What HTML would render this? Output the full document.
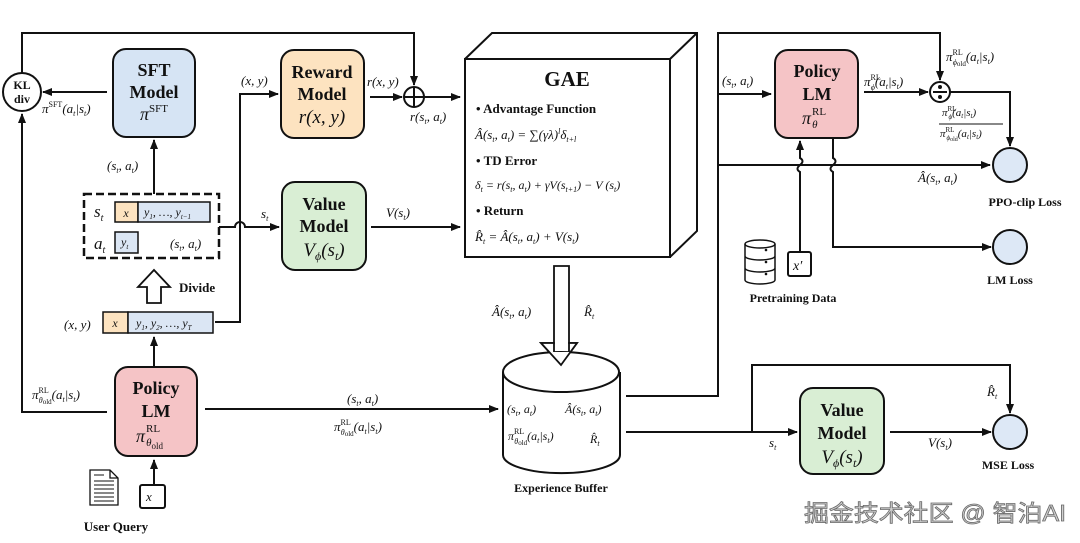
<!DOCTYPE html>
<html><head><meta charset="utf-8"><style>
body{margin:0;background:#fff}
svg{display:block}
.b{font-family:"Liberation Serif",serif;font-weight:bold;fill:#111}
.m{font-family:"Liberation Serif",serif;font-style:italic;fill:#111}
.n{font-family:"Liberation Sans",sans-serif;fill:#111}
</style></head><body>
<svg width="1080" height="543" viewBox="0 0 1080 543" xmlns="http://www.w3.org/2000/svg">
<defs><marker id="a" markerWidth="10" markerHeight="8" refX="9" refY="4" orient="auto" markerUnits="userSpaceOnUse"><path d="M0,0 L10,4 L0,8 z" fill="#111"/></marker></defs>
<g fill="none" stroke="#111" stroke-width="2">
<path d="M22,73 V33 H414 V85" marker-end="url(#a)"/>
<circle cx="22" cy="92" r="19" fill="#fff"/>
<path d="M107,92 H43" marker-end="url(#a)"/>
<path d="M107,412 H22 V114" marker-end="url(#a)"/>
<rect x="113" y="49" width="82" height="88" rx="13" fill="#d6e4f4"/>
<path d="M154,194 V140" marker-end="url(#a)"/>
<rect x="281" y="50" width="83" height="88" rx="13" fill="#fde3c0"/>
<path d="M370,97 H402" marker-end="url(#a)"/>
<circle cx="414" cy="97" r="10" fill="#fff"/>
<path d="M404,97 H424 M414,87 V107"/>
<path d="M424,97 H460" marker-end="url(#a)"/>
<rect x="282" y="182" width="84" height="88" rx="13" fill="#d9eed4"/>
<path d="M219,227 H235 A5,5 0 0 1 245,227 H279" marker-end="url(#a)"/>
<path d="M371,227 H460" marker-end="url(#a)"/>
<path d="M215,322 H240 V94 H278" marker-end="url(#a)"/>
<rect x="84" y="194" width="135" height="64" stroke-dasharray="8,4" stroke-width="2.5"/>
<rect x="115" y="202" width="23" height="20" fill="#fde3c0" stroke-width="1.5"/>
<rect x="138" y="202" width="72" height="20" fill="#dbe6f4" stroke-width="1.5"/>
<rect x="115" y="232" width="23" height="21" fill="#dbe6f4" stroke-width="1.5"/>
<path d="M147,303 V287 H138 L154,270 L170,287 H161 V303 Z" fill="#fff" stroke-width="1.8"/>
<rect x="103" y="312" width="25" height="21" fill="#fde3c0" stroke-width="1.5"/>
<rect x="128" y="312" width="85" height="21" fill="#dbe6f4" stroke-width="1.5"/>
<path d="M154,367 V337" marker-end="url(#a)"/>
<rect x="115" y="367" width="82" height="89" rx="13" fill="#f5c4c6"/>
<path d="M205,409 H498" marker-end="url(#a)"/>
<path d="M154,485 V460" marker-end="url(#a)"/>
<rect x="140" y="485" width="25" height="23" rx="2"/>
<path d="M90,470 H110 L118,478 V505 H90 Z M110,470 V478 H118" stroke-width="1.3"/>
<path d="M94,475 H104 M94,481 H114 M94,485 H114 M94,489 H114 M94,493 H114 M94,497 H114 M94,501 H114" stroke-width="1"/>
<path d="M465,59 L492,33 H697 V231 L670,257" fill="#fff"/>
<path d="M670,59 L697,33"/>
<rect x="465" y="59" width="205" height="198" fill="#fff"/>
<path d="M554,266 V343 H541 L561,365 L577,343 H569 V266 Z" fill="#fff" stroke-width="1.8"/>
<path d="M503,372 V455 A58,18 0 0 0 620,455 V372" fill="#fff"/>
<ellipse cx="561" cy="372" rx="58" ry="20" fill="#fff"/>
<path d="M554,352 V343 H541 L561,365 L577,343 H569 V352" fill="#fff" stroke-width="1.8"/>
<path d="M626,396 H718 V33 H940 V80" marker-end="url(#a)"/>
<path d="M718,94 H771" marker-end="url(#a)"/>
<path d="M718,165 H990" marker-end="url(#a)"/>
<rect x="775" y="50" width="83" height="88" rx="13" fill="#f5c4c6"/>
<path d="M864,92 H928" marker-end="url(#a)"/>
<circle cx="940" cy="92" r="10" fill="#fff"/>
<path d="M933,92 H947"/><circle cx="940" cy="87" r="1" fill="#111"/><circle cx="940" cy="97" r="1" fill="#111"/>
<path d="M950,92 H1010 V146" marker-end="url(#a)"/>
<circle cx="1010" cy="165" r="17" fill="#dde8f6"/>
<path d="M833,138 V158 Q838,161 833,165 Q828,169 833,172 V247 H991" marker-end="url(#a)"/>
<circle cx="1010" cy="247" r="17" fill="#dde8f6"/>
<path d="M800,252 V172 Q795,169 800,165 Q805,161 800,158 V141" marker-end="url(#a)"/>
<rect x="788" y="252" width="23" height="24" rx="2"/>
<g stroke-width="1.5"><ellipse cx="760" cy="244" rx="15" ry="4"/><path d="M745,244 V280 A15,4 0 0 0 775,280 V244 M745,256 A15,4 0 0 0 775,256 M745,268 A15,4 0 0 0 775,268"/></g>
<path d="M626,432 H797" marker-end="url(#a)"/>
<path d="M752,432 V365 H1010 V413" marker-end="url(#a)"/>
<rect x="800" y="388" width="84" height="86" rx="13" fill="#d9eed4"/>
<path d="M890,432 H991" marker-end="url(#a)"/>
<circle cx="1010" cy="432" r="17" fill="#dde8f6"/>
</g>
<g fill="#111" stroke="none"><circle cx="766" cy="250" r="1.3"/><circle cx="766" cy="262" r="1.3"/><circle cx="766" cy="274" r="1.3"/></g>
<text class="b" font-size="12" x="22" y="89" text-anchor="middle">KL</text>
<text class="b" font-size="12" x="22" y="103" text-anchor="middle">div</text>
<text class="b" font-size="18" x="154" y="76" text-anchor="middle">SFT</text>
<text class="b" font-size="18" x="154" y="98" text-anchor="middle">Model</text>
<text class="m" font-size="18" x="154" y="120" text-anchor="middle">π<tspan font-size="11" font-style="normal" dy="-8">SFT</tspan></text>
<text class="m" font-size="13" x="42" y="113">π<tspan font-size="8" font-style="normal" dy="-6">SFT</tspan><tspan dy="6">(a</tspan><tspan font-size="8" dy="3">t</tspan><tspan dy="-3">|s</tspan><tspan font-size="8" dy="3">t</tspan><tspan dy="-3">)</tspan></text>
<text class="b" font-size="18" x="322" y="78" text-anchor="middle">Reward</text>
<text class="b" font-size="18" x="322" y="100" text-anchor="middle">Model</text>
<text class="m" font-size="19" x="322" y="123" text-anchor="middle">r(x, y)</text>
<text class="m" font-size="13" x="367" y="86">r(x, y)</text>
<text class="m" font-size="13" x="410" y="121">r(s<tspan font-size="8" dy="3">t</tspan><tspan dy="-3">, a</tspan><tspan font-size="8" dy="3">t</tspan><tspan dy="-3">)</tspan></text>
<text class="m" font-size="13" x="241" y="85">(x, y)</text>
<text class="b" font-size="18" x="324" y="210" text-anchor="middle">Value</text>
<text class="b" font-size="18" x="324" y="232" text-anchor="middle">Model</text>
<text class="m" font-size="19" x="324" y="256" text-anchor="middle">V<tspan font-size="12" dy="4">ϕ</tspan><tspan dy="-4">(s</tspan><tspan font-size="12" dy="4">t</tspan><tspan dy="-4">)</tspan></text>
<text class="m" font-size="13" x="261" y="218">s<tspan font-size="8" dy="3">t</tspan></text>
<text class="m" font-size="13" x="386" y="217">V(s<tspan font-size="8" dy="3">t</tspan><tspan dy="-3">)</tspan></text>
<text class="m" font-size="17" x="94" y="217">s<tspan font-size="10" dy="4">t</tspan></text>
<text class="m" font-size="12" x="126" y="217" text-anchor="middle">x</text>
<text class="m" font-size="12" x="144" y="216">y<tspan font-size="7" dy="3">1</tspan><tspan dy="-3">, …, y</tspan><tspan font-size="7" dy="3">t−1</tspan></text>
<text class="m" font-size="17" x="94" y="249">a<tspan font-size="10" dy="4">t</tspan></text>
<text class="m" font-size="12" x="121" y="246">y<tspan font-size="7" dy="3">t</tspan></text>
<text class="m" font-size="13" x="170" y="248">(s<tspan font-size="8" dy="3">t</tspan><tspan dy="-3">, a</tspan><tspan font-size="8" dy="3">t</tspan><tspan dy="-3">)</tspan></text>
<text class="m" font-size="13" x="107" y="170">(s<tspan font-size="8" dy="3">t</tspan><tspan dy="-3">, a</tspan><tspan font-size="8" dy="3">t</tspan><tspan dy="-3">)</tspan></text>
<text class="b" font-size="13" x="179" y="292">Divide</text>
<text class="m" font-size="13" x="64" y="329">(x, y)</text>
<text class="m" font-size="12" x="115" y="327" text-anchor="middle">x</text>
<text class="m" font-size="12" x="136" y="327">y<tspan font-size="7" dy="3">1</tspan><tspan dy="-3">, y</tspan><tspan font-size="7" dy="3">2</tspan><tspan dy="-3">, …, y</tspan><tspan font-size="7" dy="3">T</tspan></text>
<text class="b" font-size="18" x="156" y="394" text-anchor="middle">Policy</text>
<text class="b" font-size="18" x="156" y="417" text-anchor="middle">LM</text>
<text class="m" font-size="18" x="136" y="442">π<tspan font-size="11" font-style="normal" dx="1" dy="-10">RL</tspan><tspan font-size="11" dx="-14" dy="14">θ</tspan><tspan font-size="9" font-style="normal" dy="3">old</tspan></text>
<text class="m" font-size="13" x="32" y="399">π<tspan font-size="8" font-style="normal" dy="-6">RL</tspan><tspan font-size="8" dx="-10" dy="10">θ</tspan><tspan font-size="7" font-style="normal" dy="1">old</tspan><tspan dy="-5">(a</tspan><tspan font-size="8" dy="3">t</tspan><tspan dy="-3">|s</tspan><tspan font-size="8" dy="3">t</tspan><tspan dy="-3">)</tspan></text>
<text class="m" font-size="13" x="347" y="403">(s<tspan font-size="8" dy="3">t</tspan><tspan dy="-3">, a</tspan><tspan font-size="8" dy="3">t</tspan><tspan dy="-3">)</tspan></text>
<text class="m" font-size="13" x="334" y="431">π<tspan font-size="8" font-style="normal" dy="-6">RL</tspan><tspan font-size="8" dx="-10" dy="10">θ</tspan><tspan font-size="7" font-style="normal" dy="1">old</tspan><tspan dy="-5">(a</tspan><tspan font-size="8" dy="3">t</tspan><tspan dy="-3">|s</tspan><tspan font-size="8" dy="3">t</tspan><tspan dy="-3">)</tspan></text>
<text class="m" font-size="13" x="146" y="501">x</text>
<text class="b" font-size="13" x="116" y="531" text-anchor="middle">User Query</text>
<text class="b" font-size="21" x="567" y="86" text-anchor="middle">GAE</text>
<text class="b" font-size="13" x="476" y="113">•  Advantage Function</text>
<text class="m" font-size="13" x="475" y="139">Â(s<tspan font-size="8" dy="3">t</tspan><tspan dy="-3">, a</tspan><tspan font-size="8" dy="3">t</tspan><tspan dy="-3">) = ∑(γλ)</tspan><tspan font-size="8" dy="-5">l</tspan><tspan dy="5">δ</tspan><tspan font-size="8" dy="3">t+l</tspan></text>
<text class="b" font-size="13" x="476" y="165">•  TD Error</text>
<text class="m" font-size="12" x="475" y="189">δ<tspan font-size="8" dy="3">t</tspan><tspan dy="-3"> = r(s</tspan><tspan font-size="8" dy="3">t</tspan><tspan dy="-3">, a</tspan><tspan font-size="8" dy="3">t</tspan><tspan dy="-3">) + γV(s</tspan><tspan font-size="8" dy="3">t+1</tspan><tspan dy="-3">) − V (s</tspan><tspan font-size="8" dy="3">t</tspan><tspan dy="-3">)</tspan></text>
<text class="b" font-size="13" x="476" y="215">•  Return</text>
<text class="m" font-size="13" x="475" y="241">R̂<tspan font-size="8" dy="3">t</tspan><tspan dy="-3"> = Â(s</tspan><tspan font-size="8" dy="3">t</tspan><tspan dy="-3">, a</tspan><tspan font-size="8" dy="3">t</tspan><tspan dy="-3">) + V(s</tspan><tspan font-size="8" dy="3">t</tspan><tspan dy="-3">)</tspan></text>
<text class="m" font-size="13" x="492" y="316">Â(s<tspan font-size="8" dy="3">t</tspan><tspan dy="-3">, a</tspan><tspan font-size="8" dy="3">t</tspan><tspan dy="-3">)</tspan></text>
<text class="m" font-size="13" x="584" y="316">R̂<tspan font-size="8" dy="3">t</tspan></text>
<text class="m" font-size="12" x="507" y="413">(s<tspan font-size="8" dy="3">t</tspan><tspan dy="-3">, a</tspan><tspan font-size="8" dy="3">t</tspan><tspan dy="-3">)</tspan></text>
<text class="m" font-size="12" x="565" y="413">Â(s<tspan font-size="8" dy="3">t</tspan><tspan dy="-3">, a</tspan><tspan font-size="8" dy="3">t</tspan><tspan dy="-3">)</tspan></text>
<text class="m" font-size="12" x="508" y="440">π<tspan font-size="8" font-style="normal" dy="-6">RL</tspan><tspan font-size="8" dx="-10" dy="10">θ</tspan><tspan font-size="7" font-style="normal" dy="1">old</tspan><tspan dy="-5">(a</tspan><tspan font-size="8" dy="3">t</tspan><tspan dy="-3">|s</tspan><tspan font-size="8" dy="3">t</tspan><tspan dy="-3">)</tspan></text>
<text class="m" font-size="12" x="590" y="443">R̂<tspan font-size="8" dy="3">t</tspan></text>
<text class="b" font-size="12" x="561" y="492" text-anchor="middle">Experience Buffer</text>
<text class="m" font-size="13" x="722" y="85">(s<tspan font-size="8" dy="3">t</tspan><tspan dy="-3">, a</tspan><tspan font-size="8" dy="3">t</tspan><tspan dy="-3">)</tspan></text>
<text class="b" font-size="18" x="817" y="77" text-anchor="middle">Policy</text>
<text class="b" font-size="18" x="817" y="100" text-anchor="middle">LM</text>
<text class="m" font-size="18" x="802" y="124">π<tspan font-size="11" font-style="normal" dx="1" dy="-9">RL</tspan><tspan font-size="11" dx="-14" dy="13">θ</tspan></text>
<text class="m" font-size="13" x="864" y="86">π<tspan font-size="8" font-style="normal" dy="-6">RL</tspan><tspan font-size="8" dx="-10" dy="10">ϕ</tspan><tspan dy="-4">(a</tspan><tspan font-size="8" dy="3">t</tspan><tspan dy="-3">|s</tspan><tspan font-size="8" dy="3">t</tspan><tspan dy="-3">)</tspan></text>
<text class="m" font-size="13" x="946" y="61">π<tspan font-size="8" font-style="normal" dy="-6">RL</tspan><tspan font-size="8" dx="-10" dy="10">ϕ</tspan><tspan font-size="7" font-style="normal" dy="1">old</tspan><tspan dy="-5">(a</tspan><tspan font-size="8" dy="3">t</tspan><tspan dy="-3">|s</tspan><tspan font-size="8" dy="3">t</tspan><tspan dy="-3">)</tspan></text>
<text class="m" font-size="11" x="942" y="116">π<tspan font-size="7" font-style="normal" dy="-5">RL</tspan><tspan font-size="7" dx="-8" dy="8">ϕ</tspan><tspan dy="-3">(a</tspan><tspan font-size="7" dy="2">t</tspan><tspan dy="-2">|s</tspan><tspan font-size="7" dy="2">t</tspan><tspan dy="-2">)</tspan></text>
<line x1="939" y1="124" x2="1003" y2="124" stroke="#111" stroke-width="1"/>
<text class="m" font-size="11" x="940" y="137">π<tspan font-size="7" font-style="normal" dy="-5">RL</tspan><tspan font-size="7" dx="-8" dy="8">ϕ</tspan><tspan font-size="6" font-style="normal" dy="1">old</tspan><tspan dy="-4">(a</tspan><tspan font-size="7" dy="2">t</tspan><tspan dy="-2">|s</tspan><tspan font-size="7" dy="2">t</tspan><tspan dy="-2">)</tspan></text>
<text class="m" font-size="13" x="918" y="182">Â(s<tspan font-size="8" dy="3">t</tspan><tspan dy="-3">, a</tspan><tspan font-size="8" dy="3">t</tspan><tspan dy="-3">)</tspan></text>
<text class="b" font-size="12" x="1025" y="206" text-anchor="middle">PPO-clip Loss</text>
<text class="b" font-size="12" x="1010" y="284" text-anchor="middle">LM Loss</text>
<text class="m" font-size="14" x="793" y="270">x′</text>
<text class="b" font-size="12" x="793" y="302" text-anchor="middle">Pretraining Data</text>
<text class="b" font-size="18" x="842" y="416" text-anchor="middle">Value</text>
<text class="b" font-size="18" x="842" y="439" text-anchor="middle">Model</text>
<text class="m" font-size="19" x="842" y="463" text-anchor="middle">V<tspan font-size="12" dy="4">ϕ</tspan><tspan dy="-4">(s</tspan><tspan font-size="12" dy="4">t</tspan><tspan dy="-4">)</tspan></text>
<text class="m" font-size="13" x="769" y="447">s<tspan font-size="8" dy="3">t</tspan></text>
<text class="m" font-size="13" x="928" y="447">V(s<tspan font-size="8" dy="3">t</tspan><tspan dy="-3">)</tspan></text>
<text class="m" font-size="13" x="987" y="396">R̂<tspan font-size="8" dy="3">t</tspan></text>
<text class="b" font-size="12" x="1008" y="469" text-anchor="middle">MSE Loss</text>
<text font-family="Liberation Sans, Noto Sans CJK SC, sans-serif" font-size="23" x="804" y="521" fill="#d0d0d0" stroke="#6a6a6a" stroke-width="0.8" textLength="262" lengthAdjust="spacingAndGlyphs">掘金技术社区 @ 智泊AI</text>
</svg>
</body></html>
